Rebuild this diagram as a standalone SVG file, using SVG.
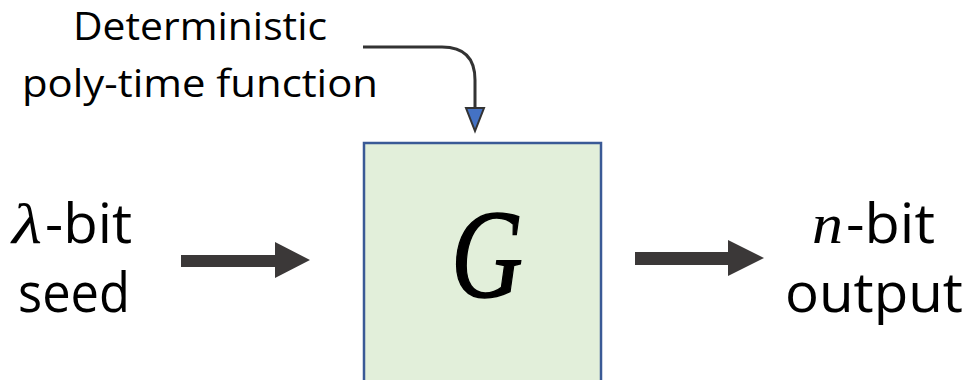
<svg xmlns="http://www.w3.org/2000/svg" width="972" height="380" viewBox="0 0 972 380">
  <style>
    .lbl { font-family: "Open Sans", "Liberation Sans", sans-serif; fill: #000; }
    .math { font-family: "Liberation Serif", "DejaVu Serif", serif; font-style: italic; fill: #000; }
    .block { fill: #3b3838; }
    .conn { fill: none; stroke: #333333; stroke-width: 3; }
  </style>
  <rect width="972" height="380" fill="#ffffff"/>

  <g id="label-function">
    <text class="lbl" x="200" y="40" font-size="38" text-anchor="middle" textLength="254" lengthAdjust="spacingAndGlyphs">Deterministic</text>
    <text class="lbl" x="200" y="97" font-size="38" text-anchor="middle" textLength="356" lengthAdjust="spacingAndGlyphs">poly-time function</text>
  </g>

  <g id="input-label">
    <text class="math" x="12" y="243" font-size="56" textLength="30" lengthAdjust="spacingAndGlyphs">λ</text>
    <text class="lbl" x="45" y="243" font-size="54" textLength="87" lengthAdjust="spacingAndGlyphs">-bit</text>
    <text class="lbl" x="18" y="312" font-size="54" textLength="112" lengthAdjust="spacingAndGlyphs">seed</text>
  </g>

  <g id="G">
    <rect x="364" y="143" width="237" height="245" fill="#e2efda" stroke="#3a5a96" stroke-width="2.5"/>
    <text class="math" x="451" y="297" font-size="126" textLength="72" lengthAdjust="spacingAndGlyphs" stroke="#000" stroke-width="1.5">G</text>
  </g>

  <g id="output-label">
    <text class="math" x="812" y="243" font-size="58" textLength="31" lengthAdjust="spacingAndGlyphs">n</text>
    <text class="lbl" x="846" y="243" font-size="54" textLength="89" lengthAdjust="spacingAndGlyphs">-bit</text>
    <text class="lbl" x="785" y="312" font-size="54" textLength="178" lengthAdjust="spacingAndGlyphs">output</text>
  </g>

  <g id="connectors">
    <polygon class="block" points="181,255 275,255 275,242 310,260 275,278 275,267 181,267"/>
    <polygon class="block" points="635,252 728,252 728,240 764,258 728,276 728,265 635,265"/>
    <path class="conn" d="M363,47 H442 Q475,47 475,80 V108"/>
    <polygon points="466,108 484,108 475,131" fill="#4472c4" stroke="#333333" stroke-width="2" stroke-linejoin="miter"/>
  </g>
</svg>
